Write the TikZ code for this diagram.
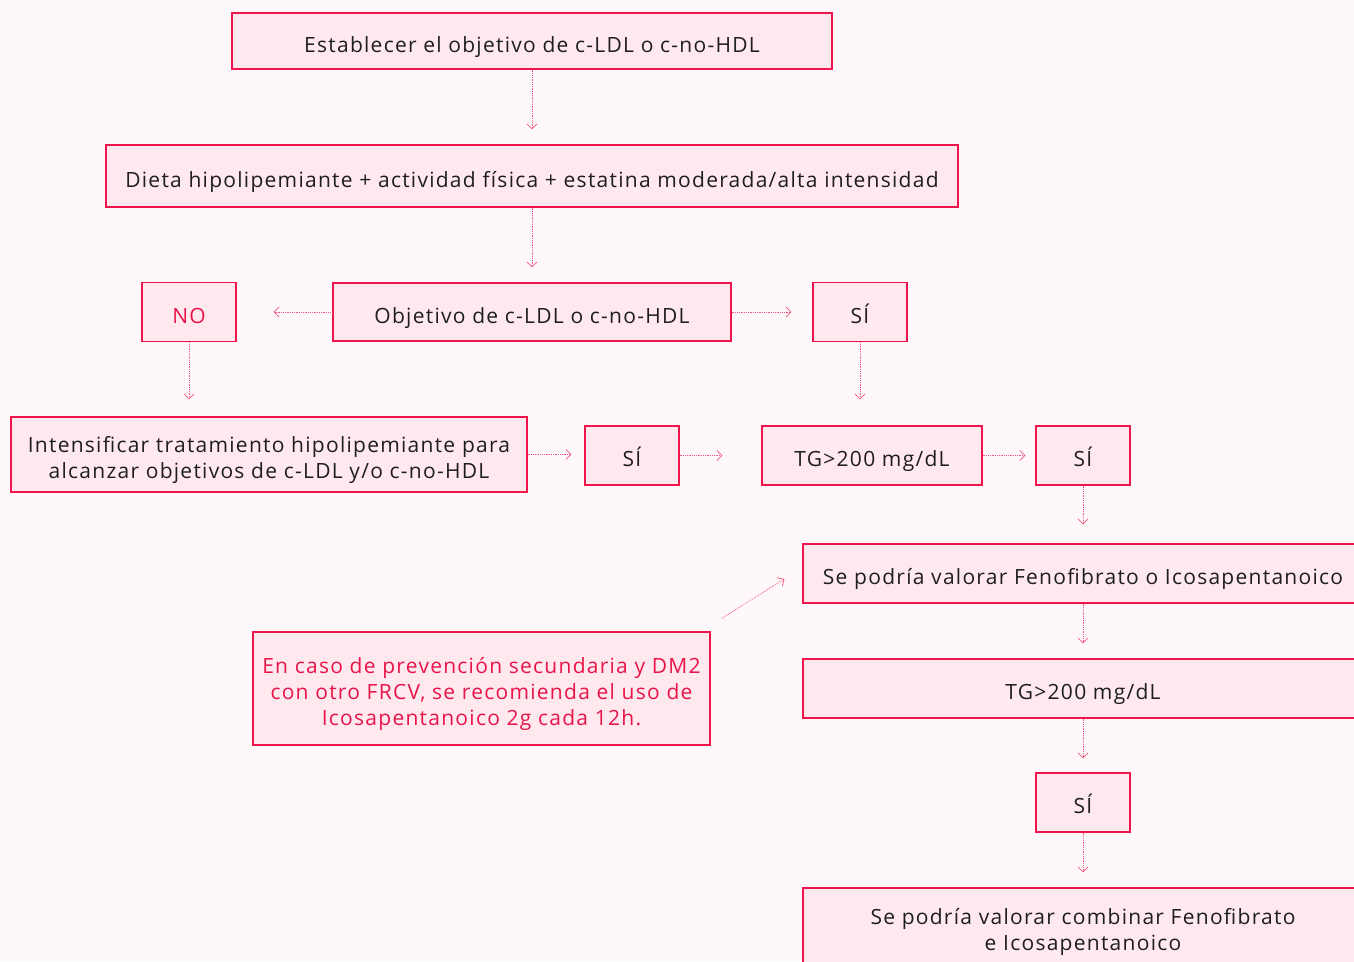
\documentclass[tikz,border=0pt]{standalone}
\usepackage{fontspec}
\setmainfont{Open Sans}[LetterSpace=6]
\usetikzlibrary{arrows.meta}
\setlength{\lineskiplimit}{-20pt}

\definecolor{bgpink}{HTML}{FFF8FA}
\definecolor{boxfill}{HTML}{FFE9EE}
\definecolor{boxline}{HTML}{F0144C}
\definecolor{txtdark}{HTML}{1E1E1E}
\definecolor{txtred}{HTML}{E8154A}
\definecolor{arrowpink}{HTML}{F25A80}

\tikzstyle{box} = [rectangle, draw=boxline, fill=boxfill, line width=1.2pt, text=txtdark, align=center, inner sep=0pt,
  execute at begin node={\rule{0pt}{28pt}}, execute at end node={\rule[-6pt]{0pt}{0pt}}]
\tikzstyle{sibox} = [box, minimum width=94, minimum height=59]
\tikzstyle{arrow} = [draw=arrowpink, densely dotted, line width=0.8pt, -{Straight Barb[length=5pt,width=10pt]}]
% strut height above the last line, so the lines sit like in the original
\tikzset{multibox/.style={box, execute at begin node={\rule{0pt}{#1}}}}

\begin{document}
\begin{tikzpicture}[x=1pt, y=-1pt, font=\fontsize{21}{25.75}\selectfont]
\fill[bgpink] (0,0) rectangle (1354,961);
\useasboundingbox (0,0) rectangle (1354,961);
\clip (0,0) rectangle (1354,961);

\node (objetivo) [box, minimum width=600, minimum height=56] at (532,41) {Establecer el objetivo de c-LDL o c-no-HDL};
\node (dieta) [box, minimum width=852, minimum height=62] at (532,176) {Dieta hipolipemiante + actividad física + estatina moderada/alta intensidad};
\node (meta) [box, minimum width=398, minimum height=58] at (532,312) {Objetivo de c-LDL o c-no-HDL};
\node (no) [sibox, text=txtred] at (189,312) {NO};
\node (siA) [sibox] at (860,312) {SÍ};
\node (intensificar) [multibox=53pt, minimum width=516, minimum height=75] at (269,454.5) {Intensificar tratamiento hipolipemiante para\\alcanzar objetivos de c-LDL y/o c-no-HDL};
\node (siB) [sibox] at (632,455.5) {SÍ};
\node (tgA) [box, minimum width=220, minimum height=59] at (872,455.5) {TG>200 mg/dL};
\node (siC) [sibox] at (1083,455.5) {SÍ};
\node (feno) [box, minimum width=560, minimum height=59] at (1083,573.5) {Se podría valorar Fenofibrato o Icosapentanoico};
\node (tgB) [box, minimum width=560, minimum height=59] at (1083,688.5) {TG>200 mg/dL};
\node (siD) [sibox] at (1083,802.5) {SÍ};
\node (combinar) [multibox=48pt, minimum width=560, minimum height=82] at (1083,929) {Se podría valorar combinar Fenofibrato\\e Icosapentanoico};
\node (nota) [multibox=79pt, minimum width=457, minimum height=113, text=txtred] at (481.5,688.5) {En caso de prevención secundaria y DM2\\con otro FRCV, se recomienda el uso de\\Icosapentanoico 2g cada 12h.};

\draw [arrow, shorten >=15pt] (objetivo.south) -- (dieta.north);
\draw [arrow, shorten >=15pt] (dieta.south) -- (meta.north);
\draw [arrow, shorten >=37pt] (meta.west) -- (no.east);
\draw [arrow, shorten >=21pt] (meta.east) -- (siA.west);
\draw [arrow, shorten >=17pt] (no.south) -- (no.south |- intensificar.north);
\draw [arrow, shorten >=26pt] (siA.south) -- (siA.south |- tgA.north);
\draw [arrow, shorten >=13pt] (intensificar.east) -- (intensificar.east -| siB.west);
\draw [arrow, shorten >=39pt] (siB.east) -- (tgA.west);
\draw [arrow, shorten >=10pt] (tgA.east) -- (siC.west);
\draw [arrow, shorten >=19pt] (siC.south) -- (feno.north);
\draw [arrow, shorten >=15pt] (feno.south) -- (tgB.north);
\draw [arrow, shorten >=14pt] (tgB.south) -- (siD.north);
\draw [arrow, shorten >=15pt] (siD.south) -- (combinar.north);
\draw [arrow] ([shift={(11,-13)}]nota.north east) -- ([shift={(-18,5.5)}]feno.west);
\end{tikzpicture}
\end{document}
